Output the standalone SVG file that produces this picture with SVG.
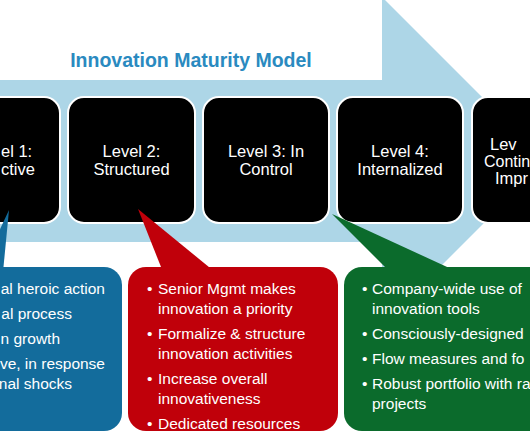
<svg xmlns="http://www.w3.org/2000/svg" width="530" height="442" viewBox="0 0 530 442">
<style>
.box{fill:#000;stroke:#fff;stroke-width:2}
.bt{font-family:"Liberation Sans",Arial,sans-serif;font-size:16.5px;fill:#fff;text-anchor:middle}
.ct{font-family:"Liberation Sans",Arial,sans-serif;font-size:15.5px;fill:#fff}
.title{font-family:"Liberation Sans",Arial,sans-serif;font-size:19.5px;font-weight:bold;fill:#2a8ac0;text-anchor:middle}
</style>
<rect width="530" height="442" fill="#fff"/>
<g id="arrow">
<polygon points="-10,80 382,80 382,-3 546,161 382,325 382,242 -10,242" fill="#add6e7"/>
</g>
<text class="title" x="191" y="67">Innovation Maturity Model</text>
<g id="level1">
<rect class="box" x="-67" y="97" width="127" height="126" rx="16"/>
<text class="bt" x="1" y="157" style="text-anchor:start">el 1:</text>
<text class="bt" x="1" y="175" style="text-anchor:start">ctive</text>
</g>
<g id="level2">
<rect class="box" x="68" y="97" width="127" height="126" rx="16"/>
<text class="bt" x="131.5" y="157">Level 2:</text>
<text class="bt" x="131.5" y="175">Structured</text>
</g>
<g id="level3">
<rect class="box" x="203" y="97" width="126" height="126" rx="16"/>
<text class="bt" x="266" y="157">Level 3:  In</text>
<text class="bt" x="266" y="175">Control</text>
</g>
<g id="level4">
<rect class="box" x="337" y="97" width="126" height="126" rx="16"/>
<text class="bt" x="400" y="157">Level 4:</text>
<text class="bt" x="400" y="175">Internalized</text>
</g>
<g id="level5">
<rect class="box" x="472" y="97" width="127" height="126" rx="16"/>
<text class="bt" x="490" y="150" style="text-anchor:start">Lev</text>
<text class="bt" x="484" y="167" style="text-anchor:start;font-size:16px">Contin</text>
<text class="bt" x="495" y="184" style="text-anchor:start">Impr</text>
</g>
<g id="callout-blue">
<polygon points="9,210 -20,272 3,272" fill="#136c9c"/>
<rect x="-88" y="267" width="210" height="164" rx="18" fill="#136c9c"/>
<text class="ct" x="105" y="294" text-anchor="end">al heroic action</text>
<text class="ct" x="72" y="319" text-anchor="end">al process</text>
<text class="ct" x="60" y="344" text-anchor="end">n growth</text>
<text class="ct" x="105" y="369" text-anchor="end">ve, in response</text>
<text class="ct" x="72" y="389" text-anchor="end">nal shocks</text>
</g>
<g id="callout-red">
<polygon points="138,209 163,272 215,272" fill="#c0000a"/>
<rect x="128" y="267" width="210" height="164" rx="18" fill="#c0000a"/>
<text class="ct" x="147" y="294">•</text>
<text class="ct" x="158" y="294">Senior Mgmt makes</text>
<text class="ct" x="158" y="314">innovation a priority</text>
<text class="ct" x="147" y="339">•</text>
<text class="ct" x="158" y="339">Formalize &amp; structure</text>
<text class="ct" x="158" y="359">innovation activities</text>
<text class="ct" x="147" y="384">•</text>
<text class="ct" x="158" y="384">Increase overall</text>
<text class="ct" x="158" y="404">innovativeness</text>
<text class="ct" x="147" y="429">•</text>
<text class="ct" x="158" y="429">Dedicated resources</text>
</g>
<g id="callout-green">
<polygon points="332,214 390,272 458,272" fill="#0b6b2c"/>
<rect x="344" y="267" width="210" height="164" rx="18" fill="#0b6b2c"/>
<text class="ct" x="362" y="294">•</text>
<text class="ct" x="372" y="294">Company-wide use of</text>
<text class="ct" x="372" y="314">innovation tools</text>
<text class="ct" x="362" y="339">•</text>
<text class="ct" x="372" y="339">Consciously-designed</text>
<text class="ct" x="362" y="364">•</text>
<text class="ct" x="372" y="364">Flow measures and fo</text>
<text class="ct" x="362" y="389">•</text>
<text class="ct" x="372" y="389">Robust portfolio with ra</text>
<text class="ct" x="372" y="409">projects</text>
</g>
</svg>
